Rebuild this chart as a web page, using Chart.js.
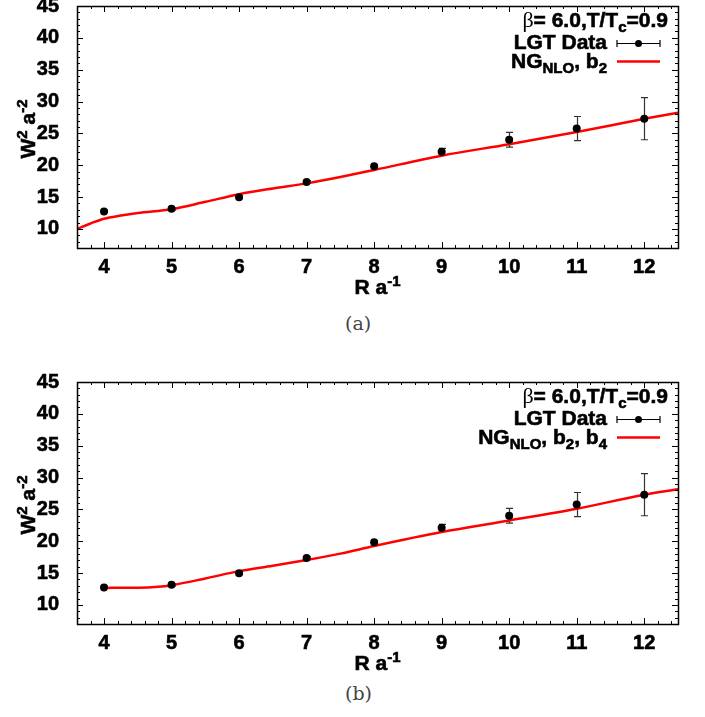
<!DOCTYPE html>
<html>
<head>
<meta charset="utf-8">
<script src="https://cdn.jsdelivr.net/npm/chart.js@4/dist/chart.umd.min.js"></script>
<style>
  body { margin: 0; background: #fff; width: 705px; height: 717px; position: relative; overflow: hidden; }
  .panel { position: absolute; left: 0; width: 705px; }
  .cap { position: absolute; font-family: "DejaVu Serif", serif; font-size: 19px; line-height: 1; color: #444; }
</style>
</head>
<body>
<div class="panel" style="top:0;height:305px"><canvas id="chartA"></canvas></div>
<div class="cap" style="left:345px;top:314px">(a)</div>
<div class="panel" style="top:346px;height:335px"><canvas id="chartB"></canvas></div>
<div class="cap" style="left:345px;top:684px">(b)</div>
<script>
// ---- lattice data: W^2 a^-2 vs R a^-1 ----
const rVals = [4, 5, 6, 7, 8, 9, 10, 11, 12];
const w2Vals = [12.75, 13.15, 14.95, 17.35, 19.85, 22.1, 24.0, 25.75, 27.3];
const w2Err = [0.15, 0.15, 0.2, 0.2, 0.25, 0.55, 1.15, 1.9, 3.3];

// NLO string curve, b2 only
const fitAx = [3.6, 3.8, 4, 4.25, 4.5, 5, 5.5, 6, 6.5, 7, 7.5, 8, 9, 10, 11, 12, 12.5];
const fitAy = [10.0, 10.85, 11.6, 12.1, 12.5, 13.1, 14.25, 15.45, 16.35, 17.15, 18.15, 19.25, 21.5, 23.3, 25.2, 27.3, 28.25];
// NLO string curve, b2 + b4
const fitBx = [4, 4.5, 4.8, 5, 5.5, 6, 6.5, 7, 7.5, 8, 9, 10, 11, 12, 12.5];
const fitBy = [12.67, 12.7, 12.85, 13.1, 14.15, 15.3, 16.15, 17.05, 18.05, 19.25, 21.45, 23.25, 25.1, 27.3, 28.15];

const xTicks = [4, 5, 6, 7, 8, 9, 10, 11, 12];
const yTicks = [10, 15, 20, 25, 30, 35, 40, 45];

const FONTS = {
  b: 'bold 21px "Liberation Sans", Arial, sans-serif',
  sub: 'bold 15px "Liberation Sans", Arial, sans-serif',
  sup: 'bold 15px "Liberation Sans", Arial, sans-serif',
  g: '22px "Liberation Serif", serif'
};
const SHIFT = { b: 0, sub: 5, sup: -8, g: 0 };

function richWidth(ctx, parts) {
  let w = 0;
  parts.forEach(p => { ctx.font = FONTS[p[1]]; w += ctx.measureText(p[0]).width; });
  return w;
}

// draws mixed text (subscripts / superscripts) starting at x on baseline y
function drawRich(ctx, parts, x, y) {
  ctx.textAlign = 'left';
  ctx.textBaseline = 'alphabetic';
  ctx.strokeStyle = '#000';
  ctx.lineWidth = 0.6;
  parts.forEach(p => {
    ctx.font = FONTS[p[1]];
    ctx.fillText(p[0], x, y + SHIFT[p[1]]);
    if (p[1] !== 'g') ctx.strokeText(p[0], x, y + SHIFT[p[1]]);
    x += ctx.measureText(p[0]).width;
  });
}

function errBar(ctx, px, top, bot, cap) {
  ctx.beginPath();
  ctx.moveTo(px, top); ctx.lineTo(px, bot);
  ctx.moveTo(px - cap, top); ctx.lineTo(px + cap, top);
  ctx.moveTo(px - cap, bot); ctx.lineTo(px + cap, bot);
  ctx.stroke();
}

const errorBars = {
  id: 'errorBars',
  beforeDatasetsDraw(chart) {
    const { ctx, scales: { x, y } } = chart;
    ctx.save();
    ctx.strokeStyle = '#333';
    ctx.lineWidth = 1.2;
    rVals.forEach((r, i) => {
      const px = Math.round(x.getPixelForValue(r)) + 0.5;
      errBar(ctx, px, y.getPixelForValue(w2Vals[i] + w2Err[i]), y.getPixelForValue(w2Vals[i] - w2Err[i]), 3.5);
    });
    ctx.restore();
  }
};

// gnuplot style frame with inward ticks on all four sides
const frame = {
  id: 'frame',
  afterDraw(chart) {
    const { ctx, chartArea: a, scales: { x, y } } = chart;
    ctx.save();
    ctx.strokeStyle = '#000';
    ctx.lineWidth = 1;
    ctx.beginPath();
    for (let k = Math.ceil(x.min / 0.2 - 1e-6); k * 0.2 <= x.max + 1e-6; k++) {
      const v = k * 0.2;
      const len = Math.abs(v - Math.round(v)) < 1e-6 ? 6 : 3;
      const px = Math.round(x.getPixelForValue(v)) + 0.5;
      ctx.moveTo(px, a.bottom); ctx.lineTo(px, a.bottom - len);
      ctx.moveTo(px, a.top); ctx.lineTo(px, a.top + len);
    }
    for (let v = Math.ceil(y.min); v <= y.max; v++) {
      const len = v % 5 === 0 ? 6 : 3;
      const py = Math.round(y.getPixelForValue(v)) + 0.5;
      ctx.moveTo(a.left, py); ctx.lineTo(a.left + len, py);
      ctx.moveTo(a.right, py); ctx.lineTo(a.right - len, py);
    }
    ctx.stroke();
    ctx.lineWidth = 1.5;
    ctx.strokeRect(Math.round(a.left) + 0.5, Math.round(a.top) + 0.5, Math.round(a.width), Math.round(a.height));
    ctx.restore();
  }
};

// axis titles and key
const labels = {
  id: 'labels',
  afterDraw(chart, args, opts) {
    const { ctx, chartArea: a } = chart;
    ctx.save();
    ctx.fillStyle = '#000';

    const xt = [['R a', 'b'], ['-1', 'sup']];
    drawRich(ctx, xt, (a.left + a.right) / 2 - richWidth(ctx, xt) / 2, a.bottom + 46);

    const yt = [['W', 'b'], ['2', 'sup'], [' a', 'b'], ['-2', 'sup']];
    ctx.translate(35, (a.top + a.bottom) / 2 + 2);
    ctx.rotate(-Math.PI / 2);
    drawRich(ctx, yt, -richWidth(ctx, yt) / 2, 0);
    ctx.setTransform(1, 0, 0, 1, 0, 0);

    const head = [['β', 'g'], ['= 6.0,T/T', 'b'], ['c', 'sub'], ['=0.9', 'b']];
    drawRich(ctx, head, a.right - 10 - richWidth(ctx, head), a.top + 21);

    const data = [['LGT Data', 'b']];
    drawRich(ctx, data, a.right - 71 - richWidth(ctx, data), a.top + 43);
    ctx.strokeStyle = '#000';
    ctx.lineWidth = 1.2;
    const ly = Math.round(a.top + 36.5) + 0.5;
    ctx.beginPath();
    ctx.moveTo(a.right - 61, ly); ctx.lineTo(a.right - 18, ly);
    ctx.moveTo(a.right - 61, ly - 3.5); ctx.lineTo(a.right - 61, ly + 3.5);
    ctx.moveTo(a.right - 18, ly - 3.5); ctx.lineTo(a.right - 18, ly + 3.5);
    ctx.stroke();
    ctx.beginPath();
    ctx.arc(a.right - 39.5, ly, 3.5, 0, Math.PI * 2);
    ctx.fill();

    drawRich(ctx, opts.fitLabel, a.right - 71 - richWidth(ctx, opts.fitLabel), a.top + 62);
    ctx.strokeStyle = '#ff0000';
    ctx.lineWidth = 2.5;
    ctx.beginPath();
    ctx.moveTo(a.right - 61, a.top + 55.5); ctx.lineTo(a.right - 18, a.top + 55.5);
    ctx.stroke();
    ctx.restore();
  }
};

const tickFont = { family: '"Liberation Sans"', size: 20, weight: 'bold', lineHeight: 1 };

function makeChart(id, padTop, fx, fy, fitLabel) {
  return new Chart(document.getElementById(id), {
    type: 'scatter',
    data: {
      datasets: [
        {
          label: 'LGT Data',
          data: rVals.map((r, i) => ({ x: r, y: w2Vals[i] })),
          pointRadius: 4,
          pointBackgroundColor: '#000',
          pointBorderWidth: 0
        },
        {
          label: 'NG NLO',
          data: fx.map((v, i) => ({ x: v, y: fy[i] })),
          showLine: true,
          borderColor: '#ff0000',
          borderWidth: 2.5,
          pointRadius: 0,
          cubicInterpolationMode: 'monotone'
        }
      ]
    },
    options: {
      responsive: true,
      maintainAspectRatio: false,
      animation: false,
      layout: { padding: { top: padTop, right: 27, left: 0, bottom: 0 } },
      plugins: {
        legend: { display: false },
        tooltip: { enabled: false },
        labels: { fitLabel }
      },
      scales: {
        x: {
          type: 'linear',
          min: 3.6,
          max: 12.5,
          afterBuildTicks: s => { s.ticks = xTicks.map(v => ({ value: v })); },
          afterFit: s => { s.height = 57; s.paddingLeft = 0; s.paddingRight = 0; },
          grid: { display: false },
          border: { display: false },
          ticks: { color: '#000', padding: 1, maxRotation: 0, font: tickFont, textStrokeColor: '#000', textStrokeWidth: 0.6 }
        },
        y: {
          min: 7,
          max: 45,
          afterBuildTicks: s => { s.ticks = yTicks.map(v => ({ value: v })); },
          // let the top label run past the edge instead of shrinking the plot
          afterFit: s => { s.width = 77; s.paddingTop = 0; s.paddingBottom = 0; },
          grid: { display: false },
          border: { display: false },
          ticks: { color: '#000', padding: 10, font: tickFont, textStrokeColor: '#000', textStrokeWidth: 0.6 }
        }
      }
    },
    plugins: [errorBars, frame, labels]
  });
}

makeChart('chartA', 6, fitAx, fitAy, [['NG', 'b'], ['NLO', 'sub'], [', b', 'b'], ['2', 'sub']]);
makeChart('chartB', 36, fitBx, fitBy, [['NG', 'b'], ['NLO', 'sub'], [', b', 'b'], ['2', 'sub'], [', b', 'b'], ['4', 'sub']]);
</script>
</body>
</html>
